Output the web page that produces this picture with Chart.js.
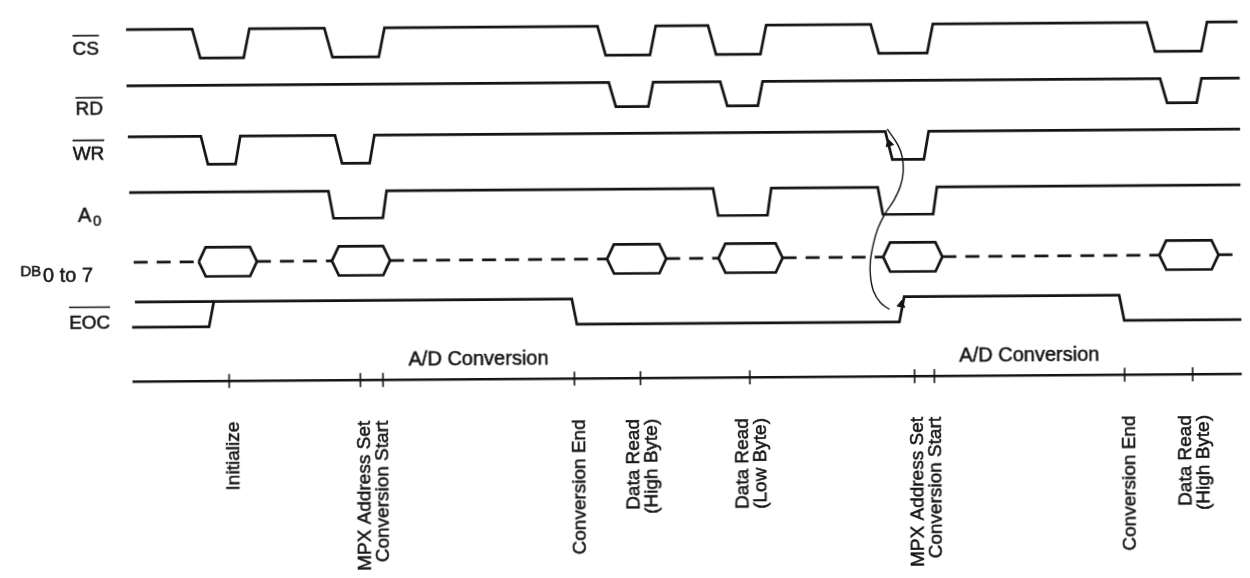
<!DOCTYPE html>
<html>
<head>
<meta charset="utf-8">
<script src="https://cdn.jsdelivr.net/npm/chart.js@4/dist/chart.umd.min.js"></script>
<style>
  html, body { margin: 0; padding: 0; background: #fff; overflow: hidden; }
  #timing { display: block; transform: rotate(-0.4deg); }
</style>
</head>
<body>
<canvas id="timing" width="1250" height="578"></canvas>
<script>
// signal names (left column)
const signalNames = ["CS", "RD", "WR", "A0", "DB", "EOC"];

// edge times (start of each transition)
const csEdges  = [188, 240, 322, 377, 599, 652, 711, 764, 876, 933, 1156, 1211];
const rdEdges  = [610, 650, 723, 761, 1169, 1206];
const wrEdges  = [196, 231, 332, 367, 890, 929];
const a0Edges  = [325, 380, 715, 770, 882, 938];
const eocEdges = [203, 571, 903, 1126];          // starts low (undefined before init)

// data bus valid windows [start, end]
const dbWindows = [[193, 252], [328, 387], [607, 667], [720, 785], [887, 947], [1167, 1227]];

// events on the time line
const eventTicks  = [223, 356, 379, 573, 640, 751, 918, 938, 1131, 1200];
const eventAt     = [223, 367.5, 573, 640, 751, 928, 1131, 1200];
const eventLabels = [
  ["Initialize"],
  ["MPX Address Set", "Conversion Start"],
  ["Conversion End"],
  ["Data Read", "(High Byte)"],
  ["Data Read", "(Low Byte)"],
  ["MPX Address Set", "Conversion Start"],
  ["Conversion End"],
  ["Data Read", "(High Byte)"]
];
const conversionSpans = [[379, 573], [938, 1131]];
const conversionText = "A/D Conversion";

// WR -> EOC cause arc
const causeArc = [
  {x: 892, y: 126}, {x: 903, y: 143}, {x: 907, y: 155}, {x: 908, y: 170},
  {x: 905, y: 185}, {x: 898, y: 200}, {x: 890, y: 212}, {x: 882, y: 228},
  {x: 877, y: 245}, {x: 874, y: 262}, {x: 874, y: 278}, {x: 877, y: 293},
  {x: 884, y: 305}, {x: 893, y: 312}
];

// layout (pixel-like rows)
const rows = {
  CS:  { hi: 18,  lo: 48,  from: 121, to: 1248, fall: 8, rise: 6 },
  RD:  { hi: 76,  lo: 101, from: 121, to: 1250, fall: 7, rise: 5 },
  WR:  { hi: 128.5, lo: 157.5, from: 122, to: 1250, fall: 7, rise: 5 },
  A0:  { hi: 186, lo: 214, from: 123, to: 1250, fall: 5, rise: 4 },
  DB:  { mid: 258, half: 15, slant: 7, from: 127, to: 1250 },
  EOC: { hi: 299, lo: 325, from: 125, to: 1250, fall: 5, rise: 5, undefFrom: 128 },
  AXIS: { y: 381, from: 125, to: 1250 }
};
const ink = "#141414";
const font = "'Liberation Sans', Arial, sans-serif";

function wave(edges, startHigh, r) {
  let high = startHigh;
  const pts = [{ x: r.from, y: high ? r.hi : r.lo }];
  edges.forEach(e => {
    pts.push({ x: e, y: high ? r.hi : r.lo });
    const d = high ? r.fall : r.rise;
    high = !high;
    pts.push({ x: e + d, y: high ? r.hi : r.lo });
  });
  pts.push({ x: r.to, y: high ? r.hi : r.lo });
  return pts;
}

function busDashes(r) {
  const pts = [{ x: r.from, y: r.mid }];
  dbWindows.forEach(w => {
    pts.push({ x: w[0], y: r.mid });
    pts.push({ x: (w[0] + w[1]) / 2, y: null });
    pts.push({ x: w[1], y: r.mid });
  });
  pts.push({ x: r.to, y: r.mid });
  return pts;
}

function busBubbles(r) {
  const pts = [];
  dbWindows.forEach(w => {
    const a = w[0], b = w[1];
    pts.push({ x: a, y: r.mid }, { x: a + r.slant, y: r.mid - r.half },
             { x: b - r.slant, y: r.mid - r.half }, { x: b, y: r.mid },
             { x: b - r.slant, y: r.mid + r.half }, { x: a + r.slant, y: r.mid + r.half },
             { x: a, y: r.mid }, { x: b + 1, y: null });
  });
  return pts;
}

function line(data, extra) {
  return Object.assign({
    data, showLine: true, pointRadius: 0, borderColor: ink, borderWidth: 2.7,
    tension: 0, spanGaps: false, fill: false
  }, extra || {});
}

const eocMain = wave(eocEdges, false, rows.EOC);
const eocUndef = [{ x: rows.EOC.undefFrom, y: rows.EOC.hi }, { x: eocEdges[0] + rows.EOC.rise, y: rows.EOC.hi }];

const datasets = [
  line(wave(csEdges, true, rows.CS)),
  line(wave(rdEdges, true, rows.RD)),
  line(wave(wrEdges, true, rows.WR)),
  line(wave(a0Edges, true, rows.A0)),
  line(busDashes(rows.DB), { borderDash: [14, 9], borderWidth: 2.8 }),
  line(busBubbles(rows.DB)),
  line(eocMain),
  line(eocUndef),
  line([{ x: rows.AXIS.from, y: rows.AXIS.y }, { x: rows.AXIS.to, y: rows.AXIS.y }], { borderWidth: 2.4 }),
  {
    data: eventTicks.map(t => ({ x: t, y: rows.AXIS.y })),
    showLine: false, pointStyle: "line", pointRotation: 90, pointRadius: 7,
    pointBorderWidth: 1.6, pointBorderColor: ink
  },
  line(causeArc, { tension: 0.4, borderWidth: 1.4 }),
  {
    data: [{ x: 894, y: 141 }, { x: 905, y: 307 }],
    showLine: false, pointStyle: "triangle", pointRadius: 4.5,
    pointRotation: [-15, 10], pointBackgroundColor: ink, pointBorderColor: ink
  }
];

// text drawn with the chart's scales
const textPlugin = {
  id: "timingText",
  afterDatasetsDraw(chart) {
    const c = chart.ctx, sx = chart.scales.x, sy = chart.scales.y;
    const X = v => sx.getPixelForValue(v), Y = v => sy.getPixelForValue(v);
    c.save();
    c.fillStyle = ink;
    c.strokeStyle = ink;
    c.textBaseline = "alphabetic";
    const put = (txt, x, y) => {
      c.lineWidth = 0.5;
      c.fillText(txt, x, y);
      c.strokeText(txt, x, y);
    };

    // left signal names
    function barred(txt, cx, base, over) {
      c.font = "19px " + font;
      c.textAlign = "center";
      put(txt, X(cx), Y(base));
      const w = c.measureText(txt).width;
      c.lineWidth = 1.6;
      c.beginPath();
      c.moveTo(X(cx) - w / 2, Y(over));
      c.lineTo(X(cx) + w / 2, Y(over));
      c.stroke();
    }
    barred(signalNames[0], 80, 44, 24);
    barred(signalNames[1], 83, 106, 88);
    barred(signalNames[2], 82, 152, 132);
    c.textAlign = "left";
    c.font = "20px " + font;
    put("A", X(71), Y(216));
    c.font = "15px " + font;
    put("0", X(86), Y(220));
    c.font = "15px " + font;
    put("DB", X(12), Y(271));
    c.font = "20px " + font;
    put("0 to 7", X(35), Y(278));
    barred(signalNames[5], 82, 326, 304);

    // A/D Conversion
    c.font = "20px " + font;
    c.textAlign = "center";
    conversionSpans.forEach(s => put(conversionText, X((s[0] + s[1]) / 2), Y(366)));

    // rotated event labels
    c.font = "19px " + font;
    eventAt.forEach((t, i) => {
      const lines = eventLabels[i];
      const offs = lines.length === 1 ? [10] : [-2, 16];
      lines.forEach((txt, j) => {
        c.save();
        c.translate(X(t + offs[j]), Y(423));
        c.rotate(-Math.PI / 2);
        c.textAlign = "right";
        put(txt, 0, 0);
        c.restore();
      });
    });
    c.restore();
  }
};

new Chart(document.getElementById("timing"), {
  type: "scatter",
  data: { datasets },
  options: {
    responsive: false,
    animation: false,
    devicePixelRatio: 1,
    layout: { padding: 0 },
    scales: {
      x: { type: "linear", min: 0, max: 1250, display: false },
      y: { type: "linear", min: 0, max: 578, reverse: true, display: false }
    },
    plugins: { legend: { display: false }, tooltip: { enabled: false } }
  },
  plugins: [textPlugin]
});
</script>
</body>
</html>
